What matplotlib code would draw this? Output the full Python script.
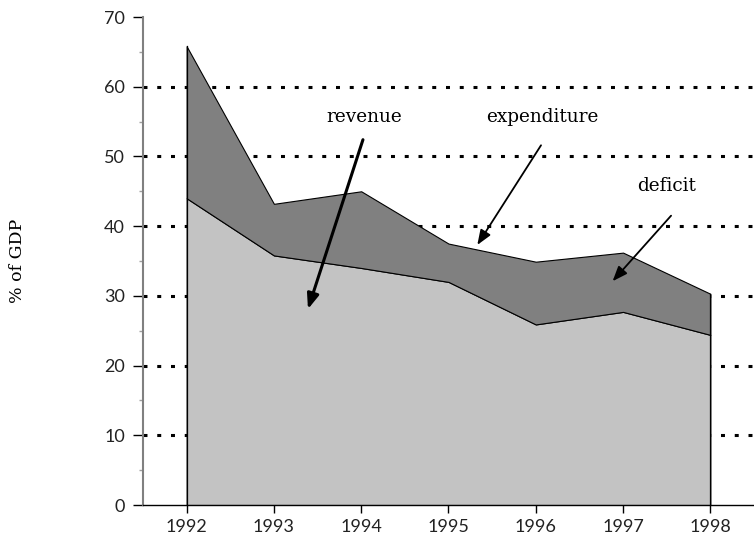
import matplotlib
matplotlib.use("Agg")
import matplotlib.pyplot as plt
from matplotlib.ticker import MultipleLocator

years = [1992, 1993, 1994, 1995, 1996, 1997, 1998]
revenue = [44.0, 35.8, 34.0, 32.0, 25.9, 27.7, 24.4]
expenditure = [65.8, 43.2, 45.0, 37.5, 34.9, 36.2, 30.3]
y_ticks = [0, 10, 20, 30, 40, 50, 60, 70]
grid_levels = [10, 20, 30, 40, 50, 60]

serif = ["DejaVu Serif"]
sans = ["Lato", "DejaVu Sans"]

fig = plt.figure(figsize=(7.54, 5.37), dpi=100)
ax = fig.add_axes([143/754, 32/537, 1 - 143/754, (505-17)/537])

# dotted grid lines behind fills
for g in grid_levels:
    ax.axhline(g, color="black", lw=2.2, linestyle=(0, (1.3, 3.2)), zorder=1)

ax.fill_between(years, 0, revenue, facecolor="#c3c3c3", edgecolor="black", lw=0.8, zorder=2)
ax.fill_between(years, revenue, expenditure, facecolor="#808080", edgecolor="black", lw=0.8, zorder=2)
ax.plot([years[0], years[0]], [0, expenditure[0]], color="black", lw=0.9, zorder=3)
ax.plot([years[-1], years[-1]], [0, expenditure[-1]], color="black", lw=0.9, zorder=3)

ax.set_xlim(1991.5, 1998.5)
ax.set_ylim(0, 70)
ax.set_xticks(years)
ax.set_xticklabels([str(y) for y in years], family=sans, fontsize=13, color="#222222")
ax.set_yticks(y_ticks)
ax.set_yticklabels([str(v) for v in y_ticks], family=sans, fontsize=13, color="#222222")
ax.yaxis.set_minor_locator(MultipleLocator(5))
ax.tick_params(axis="y", which="major", direction="out", length=7, width=1, color="black", pad=6)
ax.tick_params(axis="y", which="minor", direction="out", length=3, width=1, color="#a0a0a0")
ax.tick_params(axis="x", which="major", direction="out", length=6, width=1, color="black", pad=4)

for s in ["top", "right"]:
    ax.spines[s].set_visible(False)
ax.spines["left"].set_color("#808080")
ax.spines["left"].set_linewidth(1.5)
ax.spines["bottom"].set_color("black")
ax.spines["bottom"].set_linewidth(1.0)
ax.set_facecolor("none")

fig.text(17/754, 1 - 261/537, "% of GDP", rotation=90, ha="center", va="center",
         family=serif, fontsize=12.5)

arrowprops = dict(arrowstyle="-|>,head_length=0.9,head_width=0.35", color="black", lw=1.3,
                  shrinkA=0, shrinkB=0)
ax.annotate("", xy=(1993.39, 28.1), xytext=(1994.02, 52.4), arrowprops=dict(arrowprops, lw=2.2), zorder=5)
ax.text(1994.03, 54.4, "revenue", ha="center", va="bottom", family=serif, fontsize=13.3, zorder=5)
ax.annotate("", xy=(1995.33, 37.3), xytext=(1996.06, 51.6), arrowprops=arrowprops, zorder=5)
ax.text(1996.08, 54.4, "expenditure", ha="center", va="bottom", family=serif, fontsize=13.3, zorder=5)
ax.annotate("", xy=(1996.88, 32.1), xytext=(1997.55, 41.5), arrowprops=arrowprops, zorder=5)
ax.text(1997.5, 44.4, "deficit", ha="center", va="bottom", family=serif, fontsize=13.3, zorder=5)

fig.savefig("out.png", dpi=100)
